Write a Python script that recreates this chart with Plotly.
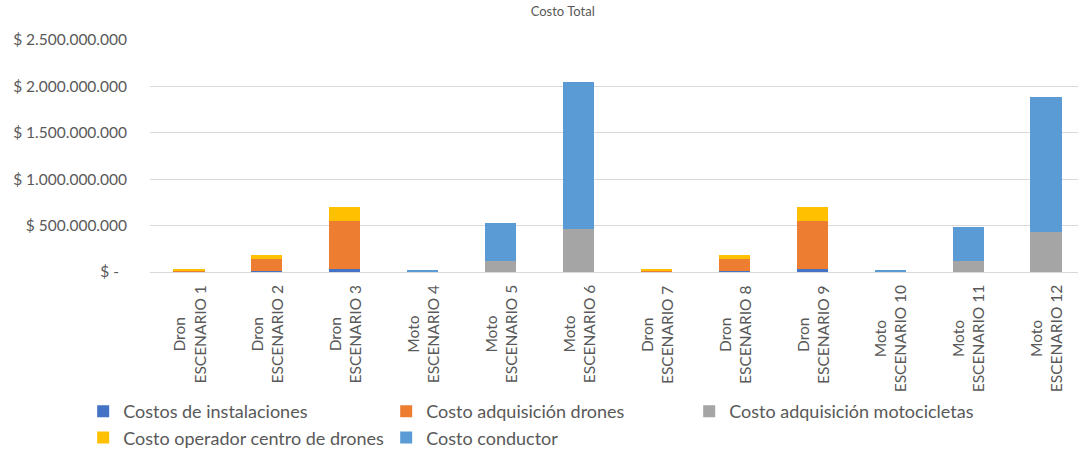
import plotly.graph_objects as go

# Scenario labels (vehicle type + scenario number)
vehiculos = ["Dron", "Dron", "Dron", "Moto", "Moto", "Moto",
             "Dron", "Dron", "Dron", "Moto", "Moto", "Moto"]
escenarios = [f"ESCENARIO {i}" for i in range(1, 13)]
categorias = [f"{v}<br>{e}" for v, e in zip(vehiculos, escenarios)]

# Cost components (COP)
costos_instalaciones = [2e6, 12e6, 30e6, 0, 0, 0, 2e6, 12e6, 30e6, 0, 0, 0]
costo_drones = [17e6, 125e6, 518e6, 0, 0, 0, 17e6, 125e6, 518e6, 0, 0, 0]
costo_motos = [0, 0, 0, 8e6, 122e6, 459e6, 0, 0, 0, 8e6, 115e6, 427e6]
costo_operador = [10e6, 50e6, 148e6, 0, 0, 0, 10e6, 50e6, 148e6, 0, 0, 0]
costo_conductor = [0, 0, 0, 12e6, 409e6, 1584e6, 0, 0, 0, 11e6, 375e6, 1462e6]

y_ticks = [0, 500e6, 1000e6, 1500e6, 2000e6, 2500e6]
y_tick_text = ["$ -  ", "$ 500.000.000", "$ 1.000.000.000", "$ 1.500.000.000",
               "$ 2.000.000.000", "$ 2.500.000.000"]

series = [
    ("Costos de instalaciones", costos_instalaciones, "#4472C4"),
    ("Costo adquisición drones", costo_drones, "#ED7D31"),
    ("Costo adquisición motocicletas", costo_motos, "#A5A5A5"),
    ("Costo operador centro de drones", costo_operador, "#FFC000"),
    ("Costo conductor", costo_conductor, "#5B9BD5"),
]

x_idx = list(range(len(categorias)))

fig = go.Figure()
for nombre, valores, color in series:
    fig.add_trace(go.Bar(
        x=x_idx, y=valores, name=nombre,
        marker=dict(color=color, line=dict(width=0)),
    ))

font_family = "Lato, 'Open Sans', sans-serif"
gris = "#595959"

# Category labels: rotated, two centred lines each
for i, etiqueta in enumerate(categorias):
    fig.add_annotation(
        x=i, xref="x", y=-0.05, yref="paper",
        text=etiqueta, textangle=-90, align="center",
        xanchor="center", yanchor="top", showarrow=False,
        font=dict(size=15.5, color=gris, family=font_family),
    )

fig.update_layout(
    width=1078, height=456,
    barmode="stack", bargap=0.6,
    paper_bgcolor="white", plot_bgcolor="white",
    margin=dict(l=150, r=0, t=40, b=183),
    font=dict(family=font_family, color=gris),
    title=dict(text="Costo Total", x=0.522, xref="container", xanchor="center",
               y=0.985, yanchor="top",
               font=dict(size=13, color=gris)),
    xaxis=dict(
        tickmode="array", tickvals=x_idx, showticklabels=False,
        range=[-0.5, 11.41],
        showgrid=False, zeroline=False, showline=False, ticks="",
    ),
    yaxis=dict(
        range=[0, 2.5e9], tickmode="array", tickvals=y_ticks, ticktext=y_tick_text,
        showgrid=True, gridcolor="#d9d9d9", gridwidth=1,
        zeroline=True, zerolinecolor="#d9d9d9", zerolinewidth=1,
        ticks="", ticklabelstandoff=22,
        tickfont=dict(size=15.5, color=gris),
    ),
    legend=dict(
        orientation="h", x=-0.072, xanchor="left", y=-0.52, yanchor="top",
        entrywidth=258, entrywidthmode="pixels",
        font=dict(size=18, color=gris), itemwidth=30,
        traceorder="normal",
    ),
)

fig.write_html("out.html")
